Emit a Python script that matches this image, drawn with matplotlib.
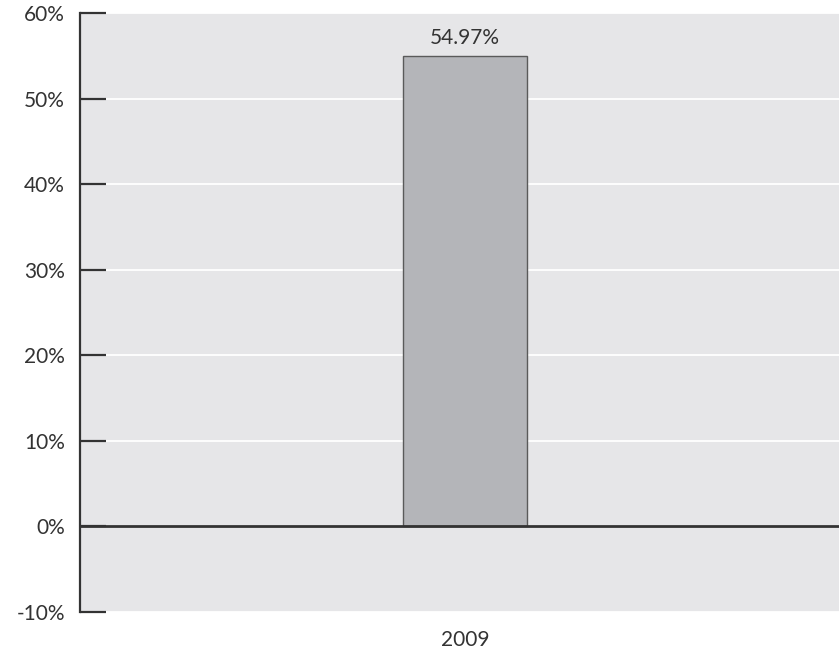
import matplotlib.pyplot as plt
from matplotlib.ticker import FuncFormatter

# chart data
categories = ['2009']
values = [54.97]
y_ticks = [-10, 0, 10, 20, 30, 40, 50, 60]

plt.rcParams['font.family'] = ['Lato', 'DejaVu Sans']

fig = plt.figure(figsize=(8.39, 6.52), dpi=100)
ax = fig.add_axes([0.0954, 0.0613, 0.9046, 0.9187])
ax.set_facecolor('#e6e6e8')

x = list(range(len(categories)))
bars = ax.bar(x, values, width=0.163, color='#b4b5b9', edgecolor='#5a5a5a',
              linewidth=1.0, zorder=3)

for rect, v in zip(bars, values):
    ax.text(rect.get_x() + rect.get_width() / 2, v + 0.9, f'{v:.2f}%',
            ha='center', va='bottom', fontsize=15, color='#333333', zorder=4)

ax.set_xlim(-0.507, 0.493)
ax.set_ylim(-10, 60)
ax.set_yticks(y_ticks)
ax.yaxis.set_major_formatter(FuncFormatter(lambda v, p: f'{v:.0f}%'))
ax.set_xticks(x)
ax.set_xticklabels(categories)

ax.grid(axis='y', color='white', linewidth=1.3, zorder=0)
ax.set_axisbelow(True)
ax.axhline(0, color='#333333', linewidth=2, zorder=5)

for s in ['top', 'right', 'bottom']:
    ax.spines[s].set_visible(False)
ax.spines['left'].set_color('#333333')
ax.spines['left'].set_linewidth(1.6)

ax.tick_params(axis='y', direction='in', length=19, width=1.6, color='#333333',
               labelsize=15, labelcolor='#333333', pad=11)
ax.tick_params(axis='x', length=0, labelsize=15, labelcolor='#333333', pad=13)

fig.savefig('out.png', dpi=100)
